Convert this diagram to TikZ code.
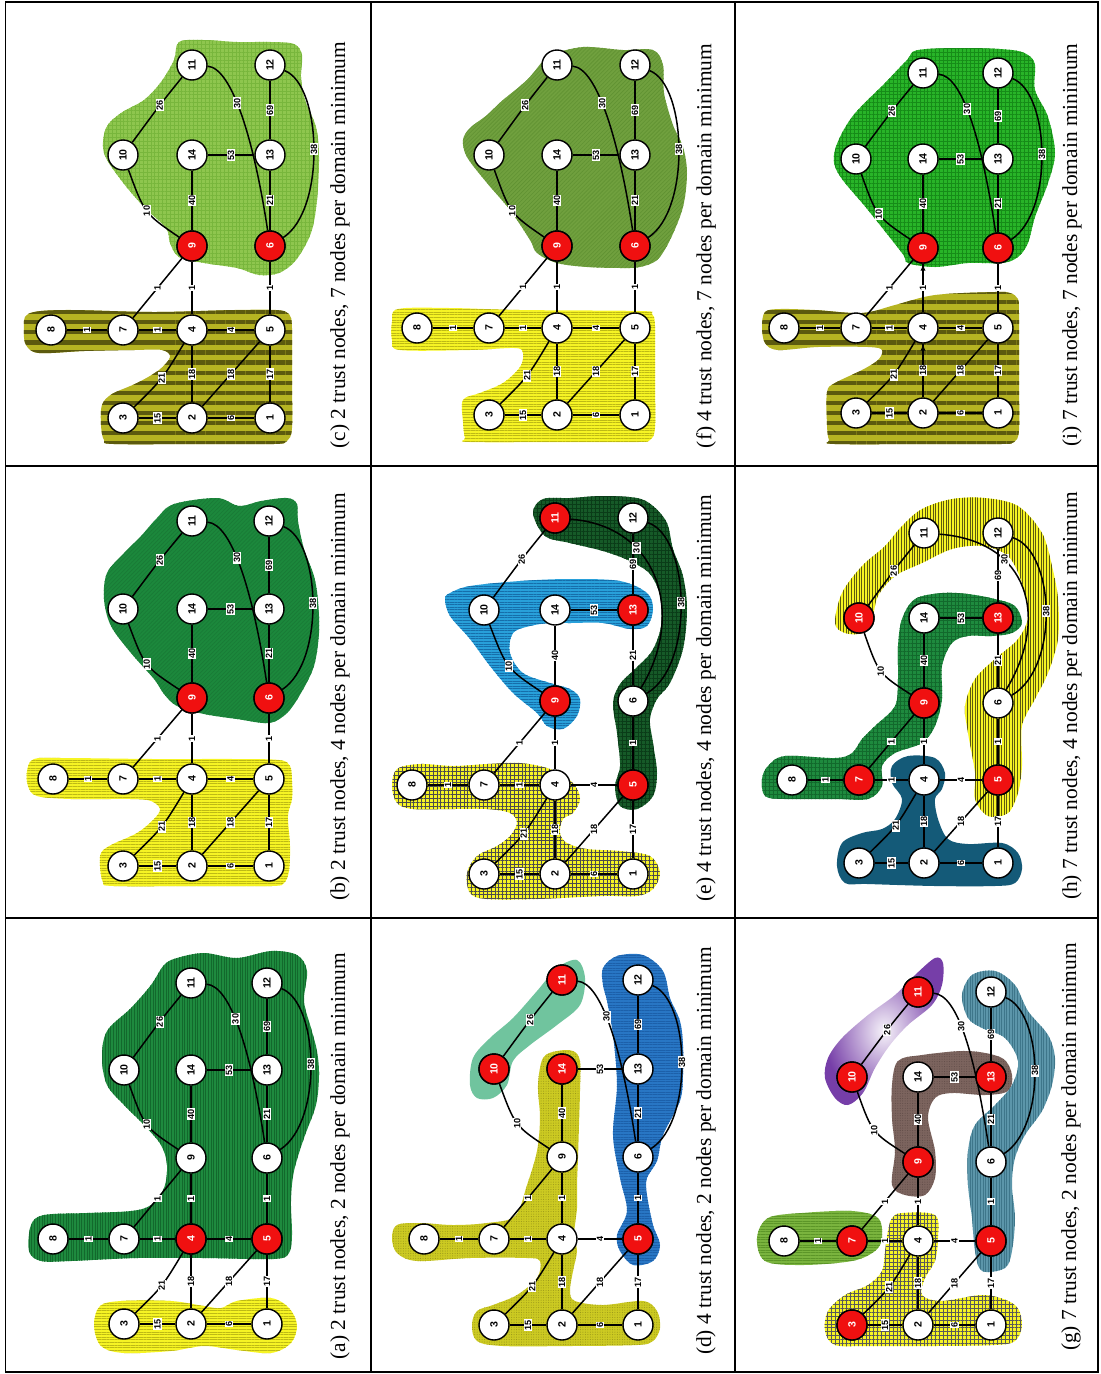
\documentclass[tikz,border=0pt]{standalone}
\usepackage{fontspec}
\setmainfont{Liberation Serif}
\newfontfamily\arialfont{Liberation Sans}
\usepackage{tikz}
\usetikzlibrary{calc,arrows.meta,patterns.meta}

\definecolor{trustred}{RGB}{240,16,16}
\definecolor{yelA}{RGB}{246,244,36}
\definecolor{yelLn}{RGB}{190,186,20}
\definecolor{grnA}{RGB}{30,138,62}
\definecolor{grnALn}{RGB}{18,105,44}
\definecolor{grnB}{RGB}{28,136,60}
\definecolor{oliveLt}{RGB}{182,180,34}
\definecolor{oliveDk}{RGB}{92,90,14}
\definecolor{lgrnC}{RGB}{142,198,78}
\definecolor{lgrnCLn}{RGB}{120,182,60}
\definecolor{yelD}{RGB}{204,202,34}
\definecolor{tealD}{RGB}{112,196,158}
\definecolor{bluD}{RGB}{40,118,196}
\definecolor{bluDLn}{RGB}{28,96,170}
\definecolor{bluE}{RGB}{40,160,218}
\definecolor{bluELn}{RGB}{22,110,170}
\definecolor{dgrnE}{RGB}{22,90,40}
\definecolor{dgrnELn}{RGB}{10,60,24}
\definecolor{grnF}{RGB}{112,160,62}
\definecolor{grnFLn}{RGB}{96,146,50}
\definecolor{grnG}{RGB}{122,180,62}
\definecolor{grnGLn}{RGB}{92,150,40}
\definecolor{purG}{RGB}{118,62,168}
\definecolor{brnG}{RGB}{124,100,94}
\definecolor{brnGLn}{RGB}{96,76,72}
\definecolor{tealG}{RGB}{92,150,170}
\definecolor{tealGLn}{RGB}{62,118,138}
\definecolor{tealH}{RGB}{20,90,120}
\definecolor{grnI}{RGB}{40,180,40}
\definecolor{grnILn}{RGB}{22,140,24}

% the 14 nodes of one network: columns #1-#4, rows #5-#9 (scan pixels)
\newcommand\placenet[9]{%
  \node[peer] (\pfx8)  at (#1,#8) {8};
  \node[peer] (\pfx7)  at (#2,#8) {7};
  \node[peer] (\pfx3)  at (#2,#9) {3};
  \node[peer] (\pfx10) at (#2,#6) {10};
  \node[peer] (\pfx4)  at (#3,#8) {4};
  \node[peer] (\pfx2)  at (#3,#9) {2};
  \node[peer] (\pfx9)  at (#3,#7) {9};
  \node[peer] (\pfx14) at (#3,#6) {14};
  \node[peer] (\pfx11) at (#3,#5) {11};
  \node[peer] (\pfx5)  at (#4,#8) {5};
  \node[peer] (\pfx1)  at (#4,#9) {1};
  \node[peer] (\pfx6)  at (#4,#7) {6};
  \node[peer] (\pfx13) at (#4,#6) {13};
  \node[peer] (\pfx12) at (#4,#5) {12};
}
% weighted links
\newcommand\netlinks{%
  \foreach \ea/\eb/\ew in {8/7/1, 7/4/1, 4/5/4, 3/2/15, 2/1/6, 2/4/18, 2/5/18, 1/5/17,
                           7/9/1, 4/9/1, 5/6/1, 9/14/40, 6/13/21, 14/13/53, 13/12/69}
    \draw[link] (\pfx\ea) -- node[wt] (\pfx w\ea-\eb) {\ew} (\pfx\eb);
  \draw[link] (\pfx3) .. controls ($(\pfx3)!.5!(\pfx4)+(5,5)$) .. node[wt] (\pfx w3-4) {21} (\pfx4);
  \draw[link] (\pfx10) .. controls ($(\pfx10)!.5!(\pfx9)+(-13,13)$) .. node[wt] (\pfx w10-9) {10} (\pfx9);
  \draw[link] (\pfx10) .. controls ($(\pfx10)!.5!(\pfx11)+(3,-6)$) .. node[wt] (\pfx w10-11) {26} (\pfx11);
}
\newcommand\farlinks{%
  \draw[link] (\pfx11) .. controls +(40,3) and +(-16,-106) .. node[wt,pos=.43] (\pfx w11-6) {30} (\pfx6);
  \draw[link] (\pfx12) .. controls +(52,20) and +(56,-36) .. node[wt] (\pfx w12-6) {38} (\pfx6);
}
\newcommand\arclinks{%
  \draw[link] (\pfx11) .. controls +(105,8) and +(52,-85) .. node[wt,pos=.32] (\pfx w11-6) {30} (\pfx6);
  \draw[link] (\pfx12) .. controls +(57,18) and +(62,-35) .. node[wt] (\pfx w12-6) {38} (\pfx6);
}
\newcommand\trusted[1]{\foreach \k in {#1} \node[trust] (\pfx t\k) at (\pfx\k) {\k};}

\begin{document}
\begin{tikzpicture}[x=0.02cm, y=-0.02cm,
  peer/.style={circle, draw, line width=0.8pt, fill=white, minimum size=0.6cm,
               inner sep=0pt, rotate=90, font=\arialfont\bfseries\fontsize{6}{6}\selectfont},
  trust/.style={peer, fill=trustred, text=white},
  link/.style={line width=0.85pt},
  wt/.style={fill=white, inner sep=0.5pt, rotate=90,
             font=\arialfont\bfseries\fontsize{5.2}{5.2}\selectfont},
  captext/.style={rotate=90, font=\fontsize{12.2}{14}\selectfont},
  frame/.style={line width=1.1pt},
  rule/.style={line width=0.95pt},
  blob/.style={smooth cycle, tension=0.55},
  hzone/.style 2 args={fill=#1, postaction={pattern={Lines[angle=0,distance=1.5pt,line width=0.35pt]}, pattern color=#2}},
  vzone/.style 2 args={fill=#1, postaction={pattern={Lines[angle=90,distance=1.5pt,line width=0.35pt]}, pattern color=#2}},
  dzone/.style 2 args={fill=#1, postaction={pattern={Lines[angle=45,distance=1.6pt,line width=0.35pt]}, pattern color=#2}},
  gzone/.style 2 args={fill=#1, postaction={pattern={Hatch[angle=0,distance=2.2pt,line width=0.25pt]}, pattern color=#2}},
  pzone/.style 2 args={fill=#1, postaction={pattern={Dots[radius=0.3pt,distance=1.4pt]}, pattern color=#2}},
  bandzone/.style={fill=oliveLt, postaction={pattern={Lines[angle=0,distance=5.7pt,line width=2.3pt]}, pattern color=oliveDk}}
]
\useasboundingbox (0,0) rectangle (1100,1374);
\draw[frame] (5.5,2) rectangle (1098,1372);
\draw[rule] (371,2) -- (371,1372);
\draw[rule] (735,2) -- (735,1372);
\draw[rule] (5.5,466) -- (1098,466);
\draw[rule] (5.5,918) -- (1098,918);

% (c)
\begin{scope}[shift={(4,0)}]
  \def\pfx{c}
  \path[bandzone] plot[blob] coordinates {(20,330) (24,314) (60,310) (150,312) (230,310) (272,310) (285,314) (288,328) (288,380) (288,428) (283,441) (270,444) (200,444) (110,444) (100,440) (97,425) (98,405) (108,394) (133,383) (155,370) (166,357) (158,350) (130,350) (80,351) (35,353) (22,345)};
  \path[gzone={lgrnC}{lgrnCLn}] plot[blob] coordinates {(175,42) (200,40) (233,42) (267,42) (290,44) (298,55) (297,77) (301,100) (312,127) (315,157) (313,200) (307,233) (292,260) (275,273) (255,275) (233,268) (200,263) (175,257) (166,243) (162,228) (140,207) (117,180) (100,153) (102,128) (117,113) (140,100) (157,82) (170,60)};
  \placenet{47}{119}{188}{266}{65}{155}{246}{330}{418}
  \netlinks \farlinks
  \trusted{9,6}
  \node[captext] (capc) at (336,245) {(c) 2 trust nodes, 7 nodes per domain minimum};
\end{scope}

% (b)
\begin{scope}[shift={(4,466)}]
  \def\pfx{b}
  \path[hzone={yelA}{yelLn}] plot[blob] coordinates {(23,305) (30,293) (60,292) (150,293) (230,293) (275,294) (286,300) (288,315) (288,333) (284,350) (286,380) (285,405) (280,417) (268,420) (200,420) (110,420) (99,416) (96,400) (97,387) (107,379) (133,367) (150,353) (156,343) (147,335) (127,333) (67,333) (33,330) (24,320)};
  \path[dzone={grnB}{grnB!90!black}] plot[blob] coordinates {(170,38) (213,32) (235,40) (257,35) (283,32) (293,38) (294,55) (300,83) (310,110) (314,135) (315,167) (310,200) (297,227) (283,247) (265,257) (233,253) (200,248) (173,240) (160,228) (150,213) (127,187) (107,160) (100,133) (103,107) (120,87) (137,70) (153,52)};
  \placenet{49}{119}{188}{265}{55}{143}{232}{313}{400}
  \netlinks \farlinks
  \trusted{9,6}
  \node[captext] (capb) at (336,231) {(b) 2 trust nodes, 4 nodes per domain minimum};
\end{scope}

% (a)
\begin{scope}[shift={(4,918)}]
  \def\pfx{a}
  \path[hzone={yelA}{yelLn}] plot[blob] coordinates {(90,407) (96,388) (117,383) (167,383) (200,388) (217,390) (233,383) (267,380) (285,390) (293,407) (287,425) (267,435) (233,432) (200,428) (167,433) (120,435) (97,428)};
  \path[vzone={grnA}{grnALn}] plot[blob] coordinates {(25,333) (27,307) (40,297) (83,295) (127,293) (147,287) (160,270) (163,247) (157,227) (140,207) (120,187) (103,167) (98,140) (103,113) (127,90) (147,67) (160,47) (173,40) (200,35) (233,40) (267,33) (293,37) (303,53) (300,83) (307,110) (313,133) (315,157) (312,187) (300,220) (290,253) (287,283) (288,317) (285,335) (270,341) (200,340) (133,340) (67,343) (37,343)};
  \placenet{49}{120}{187}{263}{65}{152}{240}{321}{406}
  \netlinks \farlinks
  \trusted{4,5}
  \node[captext] (capa) at (336,238) {(a) 2 trust nodes, 2 nodes per domain minimum};
\end{scope}

% (f)
\begin{scope}[shift={(370,0)}]
  \def\pfx{f}
  \path[hzone={yelA}{yelLn}] plot[blob] coordinates {(22,322) (28,309) (80,308) (150,310) (270,311) (282,314) (285,326) (285,380) (285,428) (280,440) (268,442) (200,442) (100,442) (95,438) (93,422) (93,400) (110,393) (133,383) (150,367) (153,353) (145,348) (100,350) (30,350) (22,340)};
  \path[dzone={grnF}{grnFLn}] plot[blob] coordinates {(180,55) (213,47) (253,50) (283,50) (293,65) (294,93) (303,125) (313,147) (317,173) (313,207) (300,240) (287,260) (270,267) (253,268) (217,267) (187,263) (167,253) (160,240) (140,210) (117,183) (97,157) (93,140) (100,128) (117,115) (133,100) (157,80) (172,62)};
  \placenet{47}{119}{187}{265}{65}{155}{246}{328}{415}
  \netlinks \farlinks
  \trusted{9,6}
  \node[captext] (capf) at (336,246) {(f) 4 trust nodes, 7 nodes per domain minimum};
\end{scope}

% (e)
\begin{scope}[shift={(370,466)}]
  \def\pfx{e}
  \path[gzone={yelA}{black!70}] plot[blob] coordinates {(22,320) (27,303) (50,298) (83,300) (117,298) (150,297) (180,303) (203,317) (210,333) (203,347) (193,353) (190,367) (197,377) (217,383) (250,385) (280,390) (290,407) (283,423) (267,430) (233,430) (167,433) (117,433) (100,427) (97,407) (107,390) (127,380) (140,370) (147,357) (140,347) (117,343) (83,343) (43,343) (27,337)};
  \path[hzone={bluE}{bluELn}] plot[blob] coordinates {(80,127) (100,120) (150,115) (200,113) (250,115) (277,127) (283,143) (277,160) (260,163) (233,157) (200,157) (180,157) (160,160) (143,167) (140,187) (153,207) (180,217) (200,223) (210,233) (207,250) (193,263) (177,260) (167,247) (143,227) (120,200) (100,173) (80,150) (75,133)};
  \path[gzone={dgrnE}{dgrnELn}] plot[blob] coordinates {(163,47) (173,33) (200,32) (233,30) (267,32) (283,40) (297,57) (303,83) (313,110) (317,143) (313,183) (300,217) (287,233) (280,253) (283,277) (287,307) (283,330) (267,343) (250,340) (245,320) (250,300) (247,267) (243,237) (250,218) (265,203) (282,185) (291,160) (290,130) (280,108) (260,95) (233,85) (200,77) (175,70)};
  \placenet{42}{114}{185}{263}{52}{144}{235}{319}{408}
  \netlinks \arclinks
  \trusted{11,13,9,5}
  \node[captext] (cape) at (336,232) {(e) 4 trust nodes, 4 nodes per domain minimum};
\end{scope}

% (d)
\begin{scope}[shift={(370,918)}]
  \def\pfx{d}
  \path[pzone={yelD}{yelD!75!black}] plot[blob] coordinates {(22,320) (27,307) (50,305) (83,307) (117,305) (145,298) (157,267) (167,233) (170,200) (168,167) (173,140) (187,133) (203,133) (210,143) (210,173) (209,207) (208,240) (207,267) (207,290) (204,317) (207,333) (203,353) (200,373) (205,383) (233,387) (273,383) (287,393) (290,410) (283,423) (267,427) (200,428) (133,428) (107,423) (102,407) (107,393) (123,387) (147,377) (167,360) (170,343) (157,340) (100,340) (47,343) (27,335)};
  \path[fill=tealD] plot[blob] coordinates {(100,167) (103,140) (120,120) (143,100) (167,73) (187,50) (207,42) (215,60) (210,87) (187,107) (160,127) (143,143) (137,167) (123,180) (107,180)};
  \path[hzone={bluD}{bluDLn}] plot[blob] coordinates {(233,50) (247,38) (273,37) (293,53) (300,80) (310,103) (313,127) (313,157) (310,183) (293,217) (287,243) (277,260) (277,277) (283,307) (290,327) (283,343) (263,347) (250,333) (247,317) (257,293) (250,260) (243,217) (247,167) (243,117) (237,83) (233,67)};
  \placenet{54}{124}{192}{268}{62}{151}{239}{321}{407}
  \netlinks \farlinks
  \trusted{10,14,11,5}
  \node[captext] (capd) at (336,233) {(d) 4 trust nodes, 2 nodes per domain minimum};
\end{scope}

% (i)
\begin{scope}[shift={(735,0)}]
  \def\pfx{i}
  \path[bandzone] plot[blob] coordinates {(27,327) (30,312) (45,309) (80,310) (127,313) (160,305) (200,295) (260,292) (275,293) (283,299) (284,314) (284,380) (284,430) (279,442) (266,444) (200,444) (100,444) (94,440) (92,425) (92,392) (100,383) (127,370) (143,360) (147,350) (133,347) (83,347) (43,350) (30,343)};
  \path[gzone={grnI}{grnILn}] plot[blob] coordinates {(183,50) (233,48) (277,50) (293,55) (300,65) (300,90) (313,117) (320,153) (313,183) (300,217) (293,243) (283,257) (267,263) (233,263) (200,267) (173,263) (167,253) (133,210) (103,173) (100,150) (117,117) (150,83) (172,60)};
  \placenet{49}{121}{188}{263}{73}{159}{248}{328}{413}
  \netlinks \farlinks
  \draw[link, shorten <=0.7cm, -{Latex[length=4pt,width=3pt]}] (i4) -- (i9);
  \draw[link, shorten <=0.8cm, -{Latex[length=4pt,width=3pt]}] (i2) -- (i4);
  \trusted{9,6}
  \node[captext] (capi) at (337,245) {(i) 7 trust nodes, 7 nodes per domain minimum};
\end{scope}

% (h)
\begin{scope}[shift={(735,466)}]
  \def\pfx{h}
  \path[gzone={grnA}{grnALn}] plot[blob] coordinates {(27,313) (33,300) (50,290) (100,292) (117,287) (127,273) (140,260) (160,240) (163,213) (163,180) (167,153) (180,133) (207,127) (233,128) (260,133) (280,140) (287,157) (277,167) (257,170) (233,170) (217,177) (207,200) (207,233) (200,260) (187,277) (160,287) (147,300) (147,320) (133,333) (100,333) (50,333) (30,330)};
  \path[fill=tealH] plot[blob] coordinates {(157,300) (173,290) (200,292) (210,307) (207,323) (200,333) (203,353) (213,373) (233,378) (267,377) (283,387) (287,403) (280,417) (260,420) (200,420) (133,418) (110,417) (102,400) (107,377) (127,367) (147,363) (160,353) (167,333) (157,317)};
  \path[vzone={yelA}{oliveDk}] plot[blob] coordinates {(100,157) (107,127) (127,100) (150,80) (167,60) (187,43) (217,33) (250,32) (283,40) (307,67) (317,100) (323,133) (323,173) (313,207) (300,233) (287,260) (287,300) (283,327) (273,347) (253,350) (240,333) (240,307) (233,267) (230,240) (240,213) (260,193) (283,173) (293,150) (287,117) (273,90) (247,80) (217,83) (187,97) (160,110) (143,130) (137,153) (127,167) (110,167)};
  \placenet{57}{124}{189}{263}{67}{152}{237}{314}{397}
  \netlinks \arclinks
  \trusted{7,10,9,13,5}
  \node[captext] (caph) at (337,230) {(h) 7 trust nodes, 4 nodes per domain minimum};
\end{scope}

% (g)
\begin{scope}[shift={(735,918)}]
  \def\pfx{g}
  \path[hzone={grnG}{grnGLn}] plot[blob] coordinates {(22,320) (33,300) (67,295) (117,293) (143,300) (147,320) (140,333) (117,343) (67,347) (30,343)};
  \path[gzone={yelA}{black!65}] plot[blob] coordinates {(157,300) (167,295) (200,297) (203,320) (200,343) (190,360) (187,377) (207,383) (250,377) (280,387) (287,407) (280,423) (260,427) (200,428) (133,428) (100,427) (90,413) (93,393) (110,377) (133,367) (147,353) (150,333) (153,313)};
  \shade[inner color=purG!6, outer color=purG] plot[blob] coordinates {(90,160) (93,140) (107,120) (133,97) (160,77) (180,57) (200,40) (208,45) (207,67) (197,87) (173,107) (155,127) (140,150) (128,175) (113,187) (100,180)};
  \path[pzone={brnG}{brnGLn}] plot[blob] coordinates {(157,267) (160,233) (157,200) (157,167) (163,143) (187,137) (233,133) (267,140) (277,157) (273,173) (250,177) (217,175) (200,180) (193,200) (200,233) (200,260) (190,277) (170,277)};
  \path[vzone={tealG}{tealGLn}] plot[blob] coordinates {(227,77) (237,57) (260,53) (280,67) (293,93) (313,117) (320,140) (317,167) (307,193) (290,217) (280,240) (277,267) (280,300) (277,333) (270,350) (247,353) (240,333) (237,300) (233,267) (233,233) (240,207) (260,187) (277,167) (283,143) (270,120) (247,110) (233,100)};
  \placenet{49}{117}{183}{256}{74}{159}{244}{323}{407}
  \netlinks \farlinks
  \trusted{3,7,10,11,9,13,5}
  \node[captext] (capg) at (336,229) {(g) 7 trust nodes, 2 nodes per domain minimum};
\end{scope}
\end{tikzpicture}
\end{document}
